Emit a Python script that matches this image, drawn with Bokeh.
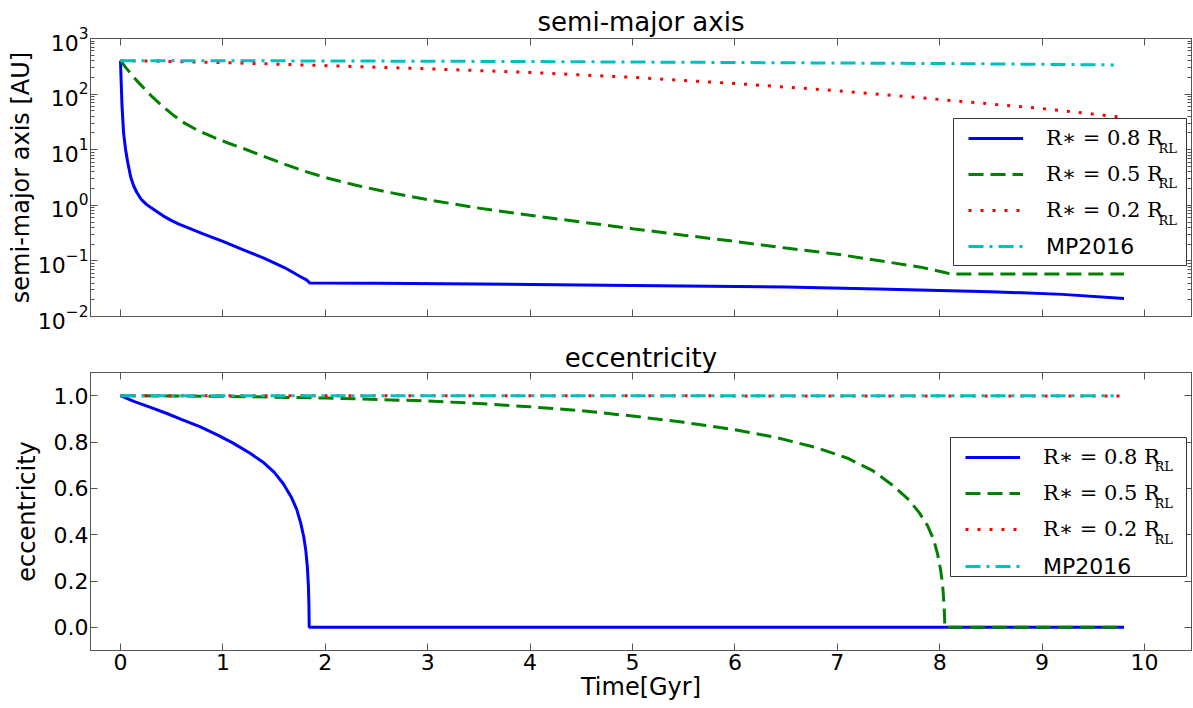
from bokeh.plotting import figure
from bokeh.layouts import column
from bokeh.models import (Range1d, Legend, LegendItem, BoxAnnotation, Label,
                          LinearAxis, LogAxis, FixedTicker, NumeralTickFormatter, LogTicker)
from bokeh.embed import file_html
from bokeh.resources import INLINE

# ---------------- data ----------------
x_ticks = [0, 1, 2, 3, 4, 5, 6, 7, 8, 9, 10]
e_ticks = [0.0, 0.2, 0.4, 0.6, 0.8, 1.0]

labels = ["R\u2217 = 0.8 R", "R\u2217 = 0.5 R", "R\u2217 = 0.2 R", "MP2016"]
sub_label = "RL"
x_label = "Time[Gyr]"
y_label_a = "semi-major axis [AU]"
y_label_e = "eccentricity"

# semi-major axis [AU]
t_a08 = [0, 0.005, 0.015, 0.03, 0.05, 0.07, 0.1, 0.13, 0.16, 0.2, 0.25, 0.3, 0.35, 0.42,
         0.5, 0.57, 0.65, 0.8, 1.0, 1.2, 1.4, 1.6, 1.75, 1.82, 1.85, 2.5, 3.5, 4.5,
         5.5, 6.5, 7.5, 8.5, 9.2, 9.8]
a_08 = [400, 200, 60, 20, 10, 6, 3.2, 2.2, 1.7, 1.3, 1.05, 0.9, 0.78, 0.64,
        0.53, 0.46, 0.40, 0.31, 0.224, 0.158, 0.112, 0.076, 0.053, 0.045, 0.040,
        0.0395, 0.0385, 0.037, 0.0355, 0.034, 0.031, 0.028, 0.025, 0.021]

t_a05 = [0, 0.05, 0.1, 0.15, 0.2, 0.3, 0.4, 0.5, 0.6, 0.75, 0.9, 1.05, 1.2, 1.4, 1.6,
         1.8, 2.0, 2.3, 2.6, 3.0, 3.5, 4.0, 4.5, 5.0, 5.5, 6.0, 6.5, 7.0, 7.5, 7.8,
         8.05, 8.1, 9.0, 9.8]
a_05 = [400, 302, 234, 182, 145, 93, 63, 44, 32, 22.4, 17, 13.2, 10.5, 7.6, 5.5,
        4.1, 3.16, 2.29, 1.74, 1.26, 0.89, 0.66, 0.50, 0.38, 0.29, 0.224, 0.17, 0.132,
        0.095, 0.078, 0.062, 0.058, 0.058, 0.058]

t_a02 = [0, 1, 2, 3, 4, 5, 6, 7, 8, 9, 9.8]
a_02 = [400, 370, 325, 285, 245, 200, 155, 115, 80, 55, 38]

t_mp = [0, 2, 4, 6, 8, 9.7]
a_mp = [400, 395, 385, 370, 355, 335]

# eccentricity
t_e08 = [0, 0.13, 0.3, 0.46, 0.6, 0.78, 0.95, 1.1, 1.27, 1.4, 1.5, 1.59, 1.67, 1.72,
         1.76, 1.79, 1.81, 1.825, 1.835, 1.84, 1.843, 3, 6, 9.8]
e_08 = [1.0, 0.975, 0.948, 0.922, 0.897, 0.865, 0.83, 0.795, 0.75, 0.71, 0.67, 0.62,
        0.56, 0.51, 0.45, 0.39, 0.33, 0.26, 0.18, 0.1, 0.0, 0.0, 0.0, 0.0]

t_e05 = [0, 1, 2, 3, 3.5, 4, 4.5, 5, 5.5, 6, 6.4, 6.8, 7.1, 7.35, 7.55, 7.7, 7.8,
         7.88, 7.94, 7.98, 8.01, 8.03, 8.042, 8.048, 8.05, 9.0, 9.8]
e_05 = [1.0, 0.997, 0.99, 0.977, 0.966, 0.952, 0.935, 0.912, 0.885, 0.853, 0.82,
        0.775, 0.73, 0.675, 0.61, 0.55, 0.495, 0.44, 0.38, 0.315, 0.245, 0.175,
        0.1, 0.04, 0.0, 0.0, 0.0]

t_e02 = [0, 2, 4, 6, 8, 9.8]
e_02 = [1.0, 1.0, 1.0, 0.999, 0.999, 0.999]

t_emp = [0, 2, 4, 6, 8, 9.7]
e_mp = [1.0, 1.0, 1.0, 1.0, 1.0, 1.0]

# ---------------- styles ----------------
COLORS = ["#0000ff", "#008000", "#ff0000", "#00bfbf"]
DASHES = ["solid", "15 7", "3 9", "15 6 3 6"]
LW = 3
FONT = "DejaVu Sans"
SERIF = "DejaVu Serif"
FRAME = "#555555"
W = 1193
XR = (-0.293, 10.459)


def style_axis(ax, show_labels=True, log=False):
    ax.axis_line_color = FRAME
    ax.major_tick_line_color = FRAME
    ax.minor_tick_line_color = FRAME
    ax.major_tick_in = 7
    ax.major_tick_out = 0
    ax.minor_tick_in = 4 if log else 0
    ax.minor_tick_out = 0
    ax.major_label_text_font = FONT
    ax.major_label_text_color = "black"
    ax.axis_label_text_font = FONT
    ax.axis_label_text_font_style = "normal"
    ax.axis_label_text_font_size = "24px"
    ax.axis_label_text_color = "black"
    if show_labels:
        ax.major_label_text_font_size = "22px"
        ax.major_label_standoff = 2
    else:
        ax.major_label_text_font_size = "1px"
        ax.major_label_text_alpha = 0.0
        ax.major_label_standoff = 0


def make_fig(height, title, log, top_border, bottom_border, title_standoff):
    kw = dict(width=W, height=height, output_backend="svg", toolbar_location=None,
              x_range=Range1d(*XR), min_border_left=90, min_border_right=2,
              min_border_top=top_border, min_border_bottom=bottom_border,
              background_fill_color="white", border_fill_color="white")
    if log:
        p = figure(y_axis_type="log", y_range=Range1d(1e-2, 1e3), **kw)
    else:
        p = figure(y_range=Range1d(-0.1, 1.1), **kw)
    p.grid.visible = False
    p.outline_line_color = FRAME
    p.title.text = title
    p.title.align = "center"
    p.title.text_font = FONT
    p.title.text_font_size = "26px"
    p.title.text_font_style = "normal"
    p.title.text_color = "black"
    p.title.standoff = title_standoff
    return p


def add_frame_axes(p, log):
    top = LinearAxis(ticker=FixedTicker(ticks=x_ticks))
    style_axis(top, show_labels=False)
    p.add_layout(top, "above")
    if log:
        right = LogAxis(ticker=LogTicker(num_minor_ticks=10))
        style_axis(right, show_labels=False, log=True)
    else:
        right = LinearAxis(ticker=FixedTicker(ticks=e_ticks))
        style_axis(right, show_labels=False)
    p.add_layout(right, "right")


def add_legend(p, renderers, box, rows, glyph_x, sub_x):
    left, right, bottom, top = box
    p.add_layout(BoxAnnotation(left=left, right=right, bottom=bottom, top=top,
                               left_units="screen", right_units="screen",
                               bottom_units="screen", top_units="screen",
                               fill_color="white", fill_alpha=1.0,
                               line_color="#333333", line_width=1, line_alpha=1.0))
    common = dict(padding=1, margin=0, spacing=6, glyph_width=55, glyph_height=30,
                  label_height=30, label_standoff=23, border_line_color=None,
                  background_fill_alpha=0.0, label_text_color="black")
    legA = Legend(items=[LegendItem(label=labels[i], renderers=[renderers[i]]) for i in range(3)],
                  location=(glyph_x, rows[2] - 16), label_text_font=SERIF,
                  label_text_font_size="21px", **common)
    legB = Legend(items=[LegendItem(label=labels[3], renderers=[renderers[3]])],
                  location=(glyph_x, rows[3] - 16), label_text_font=FONT,
                  label_text_font_size="22px", **common)
    p.add_layout(legA, "center")
    p.add_layout(legB, "center")
    for i in range(3):
        p.add_layout(Label(x=sub_x, y=rows[i] - 11, x_units="screen", y_units="screen",
                           text=sub_label, text_font=SERIF, text_font_size="13px",
                           text_color="black", text_baseline="alphabetic"))


# ---------------- top panel ----------------
p1 = make_fig(340, "semi-major axis", True, 38, 24, 4)
p1.yaxis.axis_label = y_label_a
p1.yaxis.ticker = LogTicker(num_minor_ticks=10)
p1.xaxis.ticker = FixedTicker(ticks=x_ticks)
for ax in p1.yaxis:
    style_axis(ax, show_labels=True, log=True)
    ax.axis_label_standoff = 0
for ax in p1.xaxis:
    style_axis(ax, show_labels=False)
add_frame_axes(p1, True)

series_a = [(t_a08, a_08), (t_a05, a_05), (t_a02, a_02), (t_mp, a_mp)]
r1 = []
for (tt, vv), c, d in zip(series_a, COLORS, DASHES):
    r1.append(p1.line(tt, vv, line_color=c, line_width=LW, line_dash=d))
add_legend(p1, r1, box=(863, 1096, 51, 198), rows=[179, 144, 107, 71],
           glyph_x=878, sub_x=1068)

# ---------------- bottom panel ----------------
p2 = make_fig(368, "eccentricity", False, 32, 58, 0)
p2.yaxis.axis_label = y_label_e
p2.yaxis.ticker = FixedTicker(ticks=e_ticks)
p2.yaxis.formatter = NumeralTickFormatter(format="0.0")
p2.xaxis.ticker = FixedTicker(ticks=x_ticks)
p2.xaxis.axis_label = x_label
for ax in list(p2.yaxis) + list(p2.xaxis):
    style_axis(ax, show_labels=True)
for ax in p2.yaxis:
    ax.axis_label_standoff = 10
for ax in p2.xaxis:
    ax.major_label_standoff = 3
    ax.axis_label_standoff = 0
add_frame_axes(p2, False)

series_e = [(t_e08, e_08), (t_e05, e_05), (t_e02, e_02), (t_emp, e_mp)]
r2 = []
for (tt, vv), c, d in zip(series_e, COLORS, DASHES):
    r2.append(p2.line(tt, vv, line_color=c, line_width=LW, line_dash=d))
add_legend(p2, r2, box=(860, 1096, 74, 213), rows=[195, 158, 122, 85],
           glyph_x=875, sub_x=1064)

layout = column(p1, p2, spacing=0)
open("out.html", "w").write(file_html(layout, INLINE))
